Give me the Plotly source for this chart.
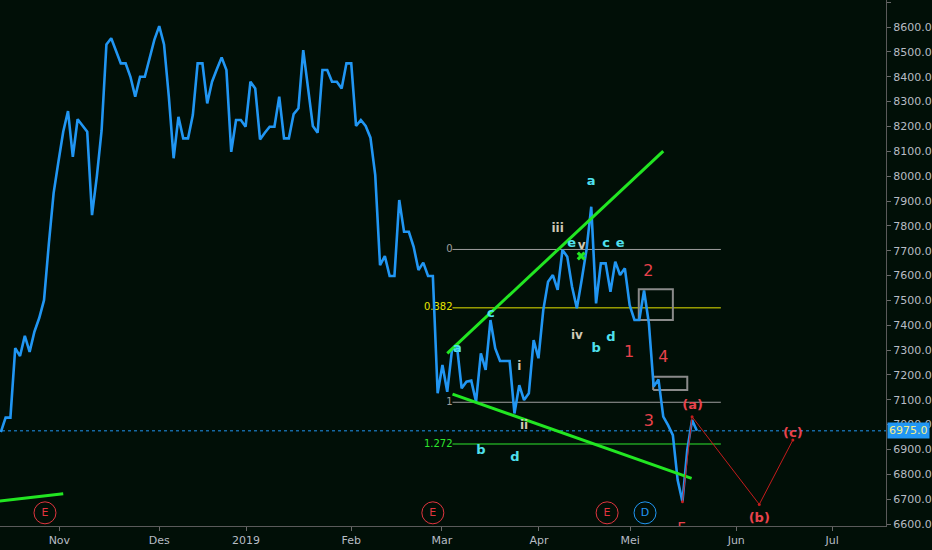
import plotly.graph_objects as go

# ---------------- data ----------------
close = [6970, 7028, 7028, 7308, 7276, 7357, 7293, 7374, 7429, 7501,
         7727, 7932, 8058, 8179, 8262, 8078, 8229, 8202, 8179, 7843,
         7998, 8185, 8530, 8555, 8501, 8454, 8454, 8400, 8320, 8400,
         8400, 8474, 8550, 8604, 8530, 8320, 8072, 8239, 8152, 8152,
         8246, 8454, 8454, 8293, 8380, 8430, 8478, 8427, 8098, 8226,
         8226, 8199, 8380, 8353, 8148, 8175, 8199, 8199, 8320, 8152,
         8152, 8250, 8273, 8507, 8355, 8202, 8175, 8427, 8427, 8380,
         8380, 8353, 8454, 8454, 8202, 8226, 8202, 8155, 8004, 7642,
         7678, 7598, 7598, 7904, 7776, 7776, 7716, 7622, 7652, 7598,
         7598, 7126, 7240, 7132, 7303, 7320, 7146, 7173, 7177, 7092,
         7287, 7220, 7421, 7307, 7256, 7256, 7256, 7045, 7159, 7099,
         7126, 7340, 7267, 7461, 7575, 7602, 7542, 7703, 7676, 7555,
         7468, 7582, 7703, 7877, 7488, 7649, 7649, 7535, 7656, 7602,
         7629, 7481, 7421, 7421, 7540, 7408, 7153, 7182, 7032, 6998,
         6958, 6777, 6690, 6898, 7019, 6975]
bars = list(range(len(close)))
last_price = 6975

month_labels = ["Nov", "Des", "2019", "Feb", "Mar", "Apr", "Mei", "Jun", "Jul"]
month_bars = [12.2, 33.0, 51.1, 73.0, 91.9, 112.1, 131.1, 153.2, 173.2]

# projection (a)-(b)-(c)
proj_x = [142, 144, 158, 165]
proj_y = [6690, 7032, 6679, 6938]

# trend lines
upper_x = [93.0, 138.0]
upper_y = [7287, 8101]
lower_x = [94.1, 143.9]
lower_y = [7123, 6784]
small_x = [-0.2, 13.0]
small_y = [6693, 6722]

# fibonacci levels
fib_ratios = ["0", "0.382", "1", "1.272"]
fib_values = [7705, 7470, 7090, 6922]
fib_colors = ["#9e9e9e", "#e6e600", "#9e9e9e", "#2ee62e"]
fib_x = [94.1, 150.0]

# boxes
box1_x = [132.9, 140.0]
box1_y = [7421, 7545]
box2_x = [135.9, 143.0]
box2_y = [7139, 7193]

# wave labels
cyan_text = ["a", "c", "b", "d", "a", "e", "c", "e", "b", "d"]
cyan_x = [95.1, 102.1, 100.0, 107.1, 123.0, 118.9, 126.1, 129.0, 124.0, 127.1]
cyan_y = [7305, 7445, 6896, 6868, 7976, 7728, 7728, 7728, 7305, 7348]

roman_text = ["iii", "v", "iv", "i", "ii"]
roman_x = [116.0, 121.0, 120.0, 108.0, 109.0]
roman_y = [7788, 7720, 7358, 7233, 6995]

red_text = ["2", "1", "4", "3", "5"]
red_x = [134.9, 130.9, 138.0, 135.0, 141.9]
red_y = [7616, 7290, 7270, 7010, 6575]

paren_text = ["(a)", "(b)", "(c)"]
paren_x = [144.1, 158.0, 165.0]
paren_y = [7077, 6620, 6963]

event_text = ["E", "E", "E", "D"]
event_x = [9.2, 90.0, 126.3, 134.2]
event_y = [6645, 6645, 6645, 6645]
event_colors = ["#e0353f", "#e0353f", "#e0353f", "#2196f3"]

xmark_x = [120.9]
xmark_y = [7679]

# ---------------- figure ----------------
BG = "#010f07"
AXC = "#b7bcc4"
FONT = "DejaVu Sans"
fig = go.Figure()

# current price dotted line
fig.add_trace(go.Scatter(x=[-1, 190], y=[last_price, last_price], mode="lines",
                         line=dict(color="#2196f3", width=1, dash="dot"),
                         hoverinfo="skip", showlegend=False))

# fib lines
for r, v, c in zip(fib_ratios, fib_values, fib_colors):
    fig.add_trace(go.Scatter(x=fib_x, y=[v, v], mode="lines",
                             line=dict(color=c, width=1), showlegend=False,
                             hoverinfo="skip"))
    fig.add_trace(go.Scatter(x=[fib_x[0]], y=[v], mode="text", text=[r],
                             textposition="middle left",
                             textfont=dict(color=c, size=10, family=FONT),
                             showlegend=False, hoverinfo="skip"))

# boxes
for bx, by in [(box1_x, box1_y), (box2_x, box2_y)]:
    fig.add_trace(go.Scatter(x=[bx[0], bx[1], bx[1], bx[0], bx[0]],
                             y=[by[0], by[0], by[1], by[1], by[0]],
                             mode="lines", line=dict(color="#8a8a8a", width=2),
                             showlegend=False, hoverinfo="skip"))

# price line
fig.add_trace(go.Scatter(x=bars, y=close, mode="lines",
                         line=dict(color="#2196f3", width=2.6),
                         showlegend=False))

# trend lines
for tx, ty in [(upper_x, upper_y), (lower_x, lower_y), (small_x, small_y)]:
    fig.add_trace(go.Scatter(x=tx, y=ty, mode="lines",
                             line=dict(color="#22e622", width=3),
                             showlegend=False, hoverinfo="skip"))

# projection
fig.add_trace(go.Scatter(x=proj_x, y=proj_y, mode="lines+markers",
                         line=dict(color="#c41c1c", width=1),
                         marker=dict(size=3, color="#c41c1c"),
                         showlegend=False, hoverinfo="skip"))

# x marker
fig.add_trace(go.Scatter(x=xmark_x, y=xmark_y, mode="markers",
                         marker=dict(symbol="x", size=8, color="#22e622",
                                     line=dict(width=0)),
                         showlegend=False, hoverinfo="skip"))

# labels
fig.add_trace(go.Scatter(x=cyan_x, y=cyan_y, mode="text", text=cyan_text,
                         textfont=dict(color="#4fe0ee", size=13, family=FONT,
                                       weight="bold"),
                         showlegend=False, hoverinfo="skip"))
fig.add_trace(go.Scatter(x=roman_x, y=roman_y, mode="text", text=roman_text,
                         textfont=dict(color="#cfc9b6", size=12, family=FONT,
                                       weight="bold"),
                         showlegend=False, hoverinfo="skip"))
fig.add_trace(go.Scatter(x=red_x, y=red_y, mode="text", text=red_text,
                         textfont=dict(color="#e8424c", size=16, family=FONT),
                         showlegend=False, hoverinfo="skip"))
fig.add_trace(go.Scatter(x=paren_x, y=paren_y, mode="text", text=paren_text,
                         textfont=dict(color="#e8424c", size=13, family=FONT,
                                       weight="bold"),
                         showlegend=False, hoverinfo="skip"))

# event circles
fig.add_trace(go.Scatter(x=event_x, y=event_y, mode="markers+text", text=event_text,
                         textposition="middle center",
                         textfont=dict(color=event_colors, size=11, family=FONT),
                         marker=dict(symbol="circle-open", size=22,
                                     color=event_colors, line=dict(width=1)),
                         showlegend=False, hoverinfo="skip"))

# price tag
fig.add_annotation(x=1, xref="paper", y=last_price, yref="y", xanchor="left",
                   text="6975.0", showarrow=False, bgcolor="#2196f3",
                   font=dict(color="#f5f08a", size=11, family=FONT),
                   borderpad=1, xshift=1)

fig.update_layout(
    width=932, height=550,
    margin=dict(l=0, r=46, t=0, b=24),
    paper_bgcolor=BG, plot_bgcolor=BG,
    font=dict(family=FONT, size=11, color=AXC),
    xaxis=dict(range=[-0.17, 184.4], showgrid=False, zeroline=False,
               tickvals=month_bars, ticktext=month_labels,
               ticks="outside", ticklen=4, tickcolor="#6a6a6a",
               showline=True, linecolor="#5a5a5a", linewidth=1,
               tickfont=dict(size=11, color=AXC)),
    yaxis=dict(range=[6592, 8709], side="right", showgrid=False, zeroline=False,
               dtick=100, tick0=6600, tickformat=".1f",
               ticks="outside", ticklen=4, tickcolor="#6a6a6a",
               showline=True, linecolor="#5a5a5a", linewidth=1,
               tickfont=dict(size=11, color=AXC)),
)

fig.write_html("out.html",
               config={"displayModeBar": False},
               post_script="document.body.style.margin='0px';"
                           "document.body.style.background='" + BG + "';")
